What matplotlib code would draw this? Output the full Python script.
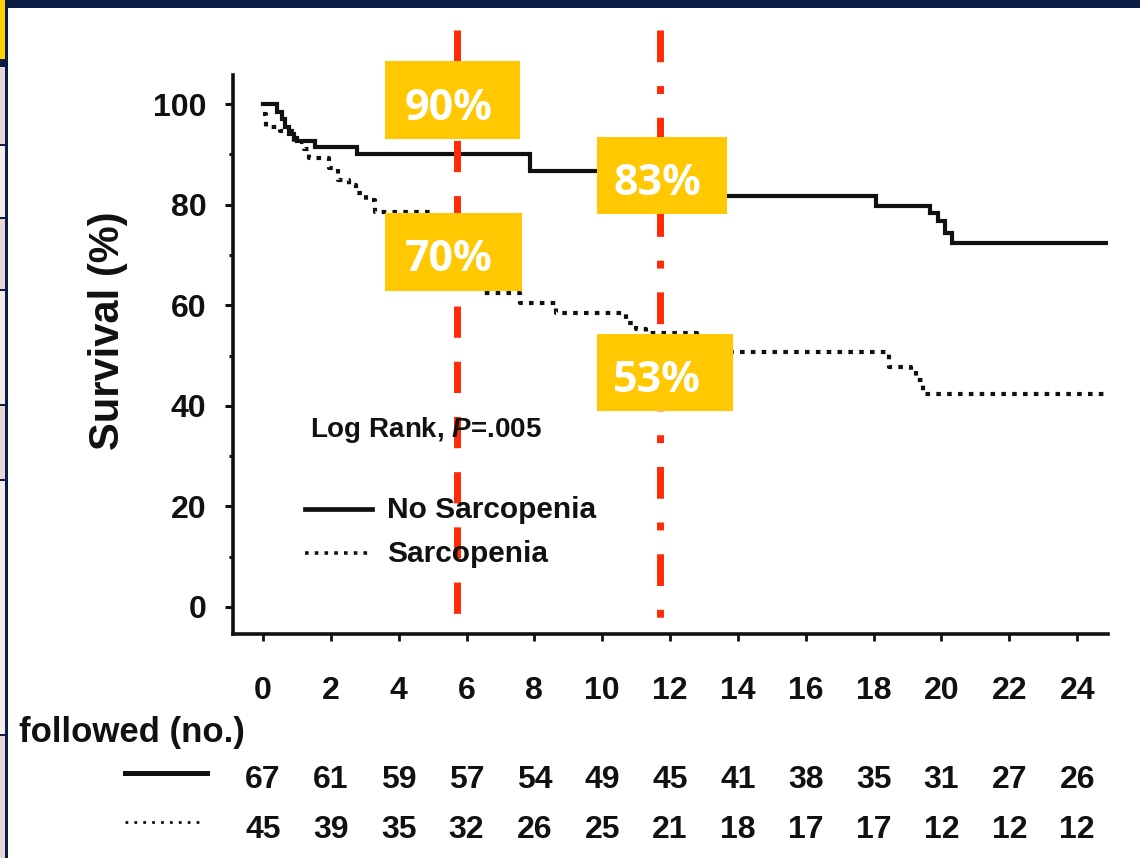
import matplotlib
matplotlib.use("Agg")
import matplotlib.pyplot as plt
from matplotlib.patches import Rectangle
from matplotlib.lines import Line2D
from matplotlib import transforms

plt.rcParams['font.family'] = ['Liberation Sans', 'DejaVu Sans']
plt.rcParams['font.weight'] = 'bold'
plt.rcParams['mathtext.fontset'] = 'custom'
plt.rcParams['mathtext.it'] = 'Liberation Sans:italic:bold'
plt.rcParams['mathtext.rm'] = 'Liberation Sans:bold'

# ---- Kaplan-Meier curves (months, survival % after each event) ----
no_sarc_months = [0, 0.42, 0.55, 0.66, 0.78, 0.90, 1.00, 1.53, 2.76, 7.86,
                  10.6, 11.5, 12.6, 18.07, 19.66, 19.9, 20.1, 20.3, 24.84]
no_sarc_surv = [100, 98.5, 97.0, 95.5, 94.0, 93.2, 92.6, 91.4, 90.0, 86.7,
                84.5, 83.0, 81.7, 79.7, 78.4, 76.7, 74.4, 72.4, 72.4]

sarc_months = [0, 0.08, 0.5, 0.9, 1.2, 1.35, 1.95, 2.2, 2.55, 2.75, 3.05, 3.3,
               5.0, 5.4, 5.8, 6.2, 6.5, 7.57, 8.65, 10.7, 11.0, 11.3,
               12.8, 13.2, 13.6, 18.46, 19.1, 19.25, 19.45, 24.84]
sarc_surv = [98, 95.5, 94.6, 92.5, 91.0, 89.2, 87.3, 85.0, 84.0, 82.4, 81.0, 78.6,
             76.0, 73.0, 70.0, 66.0, 62.4, 60.4, 58.4, 56.5, 55.3, 54.4,
             53.0, 51.8, 50.8, 47.8, 47.1, 45.1, 42.4, 42.4]

# ---- number of patients followed ----
table_months = [0, 2, 4, 6, 8, 10, 12, 14, 16, 18, 20, 22, 24]
followed_no_sarc = [67, 61, 59, 57, 54, 49, 45, 41, 38, 35, 31, 27, 26]
followed_sarc = [45, 39, 35, 32, 26, 25, 21, 18, 17, 17, 12, 12, 12]

# ---- landmark survival callouts ----
landmark_labels_6m = ["90%", "70%"]
landmark_labels_12m = ["83%", "53%"]

y_ticks = [0, 20, 40, 60, 80, 100]
y_minor = [10, 30, 50, 70, 90]

W, H = 1140, 858
NAVY = '#0b1c45'
RED = '#ff2a06'
YEL = '#ffc800'
INK = '#111111'

fig = plt.figure(figsize=(W / 100, H / 100), dpi=100)
fig.patch.set_facecolor('white')


def fx(px):
    return px / W


def fy(py):
    return 1 - py / H


def frect(x0, y0, x1, y1, color):
    fig.add_artist(Rectangle((fx(x0), fy(y1)), (x1 - x0) / W, (y1 - y0) / H,
                             transform=fig.transFigure, facecolor=color,
                             edgecolor='none', zorder=0))


# slide frame: top band, left strip with table cells
frect(0, 0, 5, 60, '#ffd200')
cells = [(67, 145, '#ead6d9'), (145, 218, '#f5ecec'), (218, 290, '#ead6d9'),
         (290, 405, '#f5ecec'), (405, 480, '#ead6d9'), (480, 735, '#f5ecec'),
         (735, 858, '#ead6d9')]
for y0, y1, c in cells:
    frect(0, y0, 5, y1, c)
for yl in [145, 218, 290, 405, 480, 735]:
    frect(0, yl - 1, 5, yl + 1, NAVY)
frect(0, 59, 5, 67, NAVY)
frect(5, 0, 8, 858, NAVY)
frect(5, 0, 1140, 8, NAVY)

ax = fig.add_axes([fx(233), fy(634), (1108 - 233) / W, (634 - 75) / H])
ax.set_facecolor('none')
ax.set_xlim(-0.884, 24.91)
ax.set_ylim(-5.37, 105.8)

ax.step(no_sarc_months, no_sarc_surv, where='post', color=INK, lw=3.0,
        solid_joinstyle='miter', zorder=2)
ax.step(sarc_months, sarc_surv, where='post', color=INK, lw=3.0,
        linestyle=(0, (1.1, 1.5)), zorder=2)

for s in ['top', 'right']:
    ax.spines[s].set_visible(False)
for s in ['left', 'bottom']:
    ax.spines[s].set_linewidth(2.6)
    ax.spines[s].set_color(INK)

ax.set_yticks(y_ticks)
ax.set_yticks(y_minor, minor=True)
ax.set_xticks(table_months)
ax.tick_params(axis='y', which='major', length=6, width=2.2, pad=13,
               labelsize=23, colors=INK)
ax.tick_params(axis='y', which='minor', length=3, width=2.2, colors=INK)
ax.tick_params(axis='x', which='major', length=5, width=2.0, pad=25.5,
               labelsize=23, colors=INK)
for lab in ax.get_xticklabels() + ax.get_yticklabels():
    lab.set_fontweight('bold')

# landmark guide lines at 6 and 12 months
ax.plot([5.72, 5.72], [114.7, -3.0], color=RED, lw=5.0,
        linestyle=(0, (4.5, 3.45)), clip_on=False, zorder=3)
ax.plot([11.70, 11.70], [114.7, -3.0], color=RED, lw=5.0,
        linestyle=(0, (4.57, 3.43, 1.14, 3.43)), clip_on=False, zorder=3)

# callout boxes: (text, left, right, bottom, top, text x, text baseline)
callouts = [
    (landmark_labels_6m[0], 3.597, 7.577, 93.04, 108.55, 4.19, 96.8),
    (landmark_labels_6m[1], 3.597, 7.636, 62.82, 78.33, 4.19, 66.8),
    (landmark_labels_12m[0], 9.847, 13.679, 78.13, 93.44, 10.32, 81.9),
    (landmark_labels_12m[1], 9.847, 13.856, 38.97, 54.27, 10.32, 42.7),
]
for txt, x0, x1, y0, y1, tx, ty in callouts:
    ax.add_patch(Rectangle((x0, y0), x1 - x0, y1 - y0, facecolor=YEL,
                           edgecolor='none', clip_on=False, zorder=4))
    ax.text(tx, ty, txt, color='white', fontsize=31, fontweight='bold',
            family=['Open Sans', 'DejaVu Sans'], ha='left', va='baseline',
            zorder=5, clip_on=False)

# in-plot legend and test statistic
def afx(px):
    return (px - 233) / 875


def afy(py):
    return (634 - py) / 559


ax.text(afx(310), afy(437), r"Log Rank, $P$=.005", transform=ax.transAxes,
        fontsize=20, color=INK, ha='left', va='baseline')
ax.add_line(Line2D([afx(305), afx(372)], [afy(509), afy(509)],
                   transform=ax.transAxes, color=INK, lw=3.4, clip_on=False))
ax.add_line(Line2D([afx(305), afx(370)], [afy(553), afy(553)],
                   transform=ax.transAxes, color=INK, lw=2.6,
                   linestyle=(0, (1.0, 1.7)), clip_on=False))
ax.text(afx(387), afy(518), "No Sarcopenia", transform=ax.transAxes,
        fontsize=21.5, color=INK, ha='left', va='baseline')
ax.text(afx(387), afy(562), "Sarcopenia", transform=ax.transAxes,
        fontsize=21.5, color=INK, ha='left', va='baseline')

# y-axis title
fig.text(fx(108), fy(331), "Survival (%)", rotation=90, fontsize=30,
         color=INK, ha='center', va='center')

# table of patients followed
mix = transforms.blended_transform_factory(ax.transData, fig.transFigure)
fig.text(fx(245), fy(742), "followed (no.)", fontsize=25,
         color=INK, ha='right', va='baseline')
for m, n1, n2 in zip(table_months, followed_no_sarc, followed_sarc):
    ax.text(m, fy(788), str(n1), transform=mix, fontsize=23, color=INK,
            ha='center', va='baseline', clip_on=False)
    ax.text(m, fy(838), str(n2), transform=mix, fontsize=23, color=INK,
            ha='center', va='baseline', clip_on=False)
fig.add_artist(Line2D([fx(125), fx(207)], [fy(773), fy(773)],
                      transform=fig.transFigure, color=INK, lw=3.6))
fig.add_artist(Line2D([fx(125), fx(200)], [fy(822), fy(822)],
                      transform=fig.transFigure, color=INK, lw=2.0,
                      linestyle=(0, (1.0, 2.2))))

fig.savefig("out.png", dpi=100, facecolor='white')
